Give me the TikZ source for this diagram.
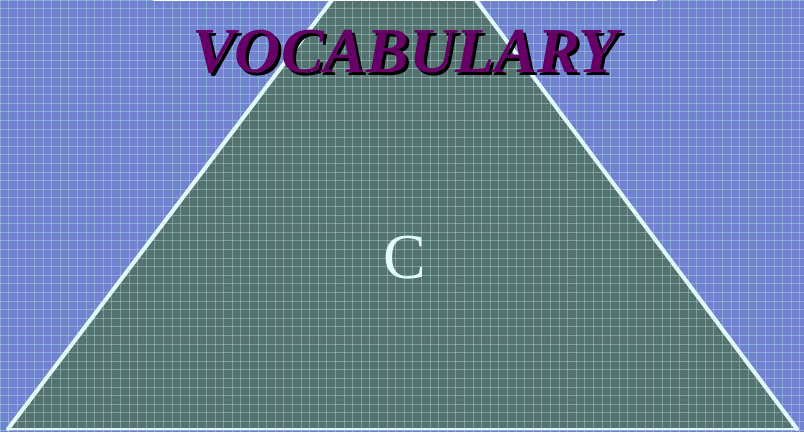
\documentclass[tikz,border=0pt]{standalone}
\usepackage{fontspec}
\setmainfont{Liberation Serif}
\definecolor{bgblue}{RGB}{114,130,208}
\definecolor{trifill}{RGB}{86,114,110}
\definecolor{gridc}{RGB}{170,230,230}
\definecolor{edgec}{RGB}{225,250,255}
\definecolor{titlec}{RGB}{102,0,102}
\definecolor{letterc}{RGB}{225,255,255}
\tikzset{
  titletext/.style={font=\fontsize{64}{64}\selectfont\bfseries\itshape, inner sep=0pt},
  edgeline/.style={draw=edgec, line width=4pt},
}
\begin{document}
\begin{tikzpicture}[x=1pt,y=-1pt]
\useasboundingbox (0,0) rectangle (804,432);
\fill[bgblue] (0,0) rectangle (804,432);
\coordinate (tl) at (332,0);
\coordinate (tr) at (476,0);
\coordinate (br) at (797,429);
\coordinate (bl) at (8,429);
\fill[trifill] (tl) -- (tr) -- (br) -- (bl) -- cycle;
\begin{scope}
\clip (0,0) rectangle (804,432);
\foreach \i in {0,8.6,...,804} {\draw[gridc, opacity=0.4, line width=0.8pt] (\i,0) -- (\i,432);}
\foreach \j in {0,8.6,...,432} {\draw[gridc, opacity=0.4, line width=0.8pt] (0,\j) -- (804,\j);}
\end{scope}
\draw[edgeline, line cap=round] (tl) -- (bl);
\draw[edgeline, line cap=round] (tr) -- (br);
\draw[edgec, line width=1.5pt] (bl) -- (br);
\draw[white, line width=2pt] (153,0) -- (657,0);
\node[titletext, text=black] (shadow) at (408,55) {VOCABULARY};
\node[titletext, text=titlec] (title) at (405,52) {VOCABULARY};
\node[font=\fontsize{64}{64}\selectfont, text=letterc, inner sep=0pt] (c) at (405,258) {C};
\end{tikzpicture}
\end{document}
